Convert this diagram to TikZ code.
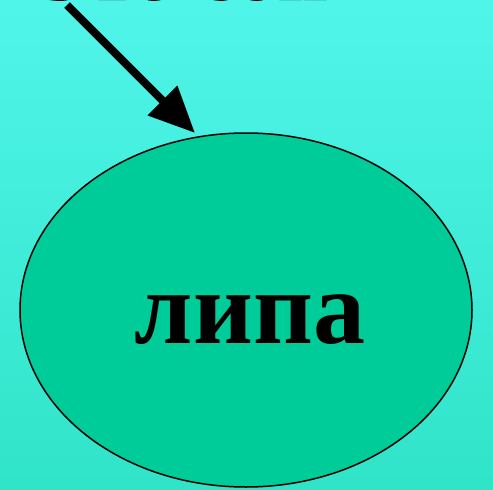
\documentclass[tikz,border=0pt]{standalone}
\usepackage{fontspec}
\setmainfont{Liberation Serif}
\usetikzlibrary{arrows.meta,shapes.geometric}
\definecolor{bgtop}{RGB}{80,245,234}
\definecolor{bgbot}{RGB}{48,228,200}
\definecolor{ellfill}{RGB}{0,204,153}
\definecolor{wordgreen}{RGB}{51,204,51}
\newcommand{\outlinedtext}[1]{\special{pdf:literal direct 2 Tr 2.2 w 0 0 0 RG}#1\special{pdf:literal direct 0 Tr}}
\tikzset{
  bigell/.style={ellipse, draw=black, line width=1.5pt, fill=ellfill,
    minimum width=452pt, minimum height=354pt, inner sep=0pt},
  bigword/.style={font=\fontsize{104}{110}\selectfont\bfseries, text=black},
  topword/.style={font=\fontsize{86}{90}\selectfont\bfseries, anchor=base west, inner sep=0pt, text=wordgreen},
  bigarrow/.style={line width=8pt, -{Triangle[length=46pt,width=40pt]}}
}
\begin{document}
\begin{tikzpicture}[x=1pt,y=-1pt]
  \useasboundingbox (0,0) rectangle (493,490);
  \shade[top color=bgtop, bottom color=bgbot] (0,0) rectangle (493,490);
  \begin{scope}
    \clip (0,0) rectangle (493,490);
    \node[topword] (top) at (33,-1) {\outlinedtext{Это сон}};
  \end{scope}
  \node[bigell] (lipa) at (246,310) {};
  \node[bigword] (lipatext) at (250,320) {липа};
  \coordinate (a0) at (67,5);
  \coordinate (a1) at (195,133);
  \draw[bigarrow] (a0) -- (a1);
\end{tikzpicture}
\end{document}
